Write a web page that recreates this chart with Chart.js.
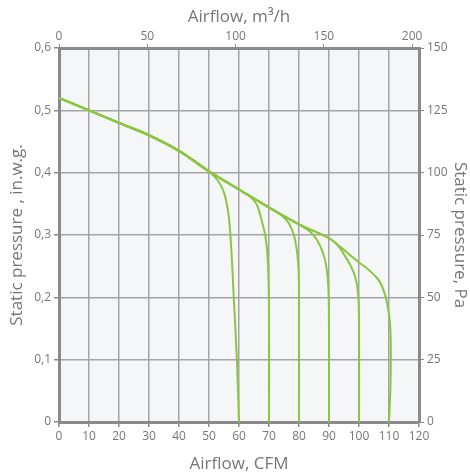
<!DOCTYPE html>
<html>
<head>
<meta charset="utf-8">
<script src="https://cdn.jsdelivr.net/npm/chart.js@4/dist/chart.umd.min.js"></script>
<style>
  body { margin: 0; background: #fff; }
  #wrap { width: 470px; height: 474px; }
</style>
</head>
<body>
<div id="wrap"><canvas id="fanChart" width="470" height="474"></canvas></div>
<script>
// axis ticks
var cfmTicks = [0, 10, 20, 30, 40, 50, 60, 70, 80, 90, 100, 110, 120];
var m3hTicks = [0, 50, 100, 150, 200];
var inwgTicks = [0, 0.1, 0.2, 0.3, 0.4, 0.5, 0.6];
var paTicks = [0, 25, 50, 75, 100, 125, 150];

// common upper curve (CFM / in.w.g.)
var mainCfm = [0, 10, 20, 30, 40, 50, 60, 70, 80, 90];
var mainPress = [0.52, 0.50, 0.48, 0.46, 0.435, 0.402, 0.373, 0.344, 0.317, 0.295];

// branches, each one leaves the upper curve and drops to zero
var cfm60 = [53, 55, 56.5, 57.4, 58.3, 59.3, 60];
var press60 = [0.387, 0.368, 0.333, 0.28, 0.195, 0.1, 0];
var cfm70 = [64, 66, 67.3, 68.8, 69.6, 70, 70];
var press70 = [0.36, 0.348, 0.328, 0.298, 0.26, 0.18, 0];
var cfm80 = [73, 75, 76.7, 78.3, 79.3, 79.9, 80, 80];
var press80 = [0.336, 0.328, 0.318, 0.3, 0.275, 0.24, 0.15, 0];
var cfm90 = [82, 84, 86, 87.8, 89.1, 89.8, 90, 90];
var press90 = [0.311, 0.304, 0.292, 0.274, 0.25, 0.215, 0.15, 0];
var cfm100 = [93, 95.5, 97.5, 99, 99.8, 100, 100];
var press100 = [0.283, 0.265, 0.248, 0.228, 0.2, 0.15, 0];
var cfm110 = [93, 96, 100, 103, 105, 106.8, 108.3, 109.4, 110.3, 110.6, 110.5, 110];
var press110 = [0.284, 0.272, 0.256, 0.245, 0.236, 0.226, 0.21, 0.19, 0.16, 0.12, 0.06, 0];

var lineColor = '#8cc63f';
var gridColor = '#a4a4a4';
var axisColor = '#8a8a8a';
var textColor = '#767676';
var fontName = "'Open Sans', sans-serif";

// build one curve: upper curve up to a CFM, then the branch
function makeCurve(upTo, bx, by) {
    var pts = [];
    for (var i = 0; i < mainCfm.length; i++) {
        if (mainCfm[i] <= upTo) {
            pts.push({ x: mainCfm[i], y: mainPress[i] });
        }
    }
    for (var j = 0; j < bx.length; j++) {
        pts.push({ x: bx[j], y: by[j] });
    }
    return {
        data: pts,
        borderColor: lineColor,
        borderWidth: 2,
        pointRadius: 0,
        tension: 0.35,
        fill: false
    };
}

var datasets = [
    makeCurve(50, cfm60, press60),
    makeCurve(60, cfm70, press70),
    makeCurve(70, cfm80, press80),
    makeCurve(80, cfm90, press90),
    makeCurve(90, cfm100, press100),
    makeCurve(90, cfm110, press110)
];

function setTicks(list) {
    return function(scale) {
        scale.ticks = list.map(function(v) { return { value: v }; });
    };
}

// plot background
var plotBg = {
    id: 'plotBg',
    beforeDraw: function(chart) {
        var a = chart.chartArea;
        var ctx = chart.ctx;
        ctx.save();
        ctx.fillStyle = '#f4f6f8';
        ctx.fillRect(a.left, a.top, a.right - a.left, a.bottom - a.top);
        ctx.restore();
    }
};

var tickFont = { family: fontName, size: 12 };
var titleFont = { family: fontName, size: 17 };

var ctx = document.getElementById('fanChart').getContext('2d');
var chart = new Chart(ctx, {
    type: 'line',
    data: { datasets: datasets },
    plugins: [plotBg],
    options: {
        responsive: false,
        animation: false,
        layout: { padding: 0 },
        plugins: {
            legend: { display: false },
            tooltip: { enabled: false }
        },
        scales: {
            x: {
                type: 'linear', position: 'bottom', min: 0, max: 120,
                afterBuildTicks: setTicks(cfmTicks),
                afterFit: function(s) { s.height = 52; },
                grid: { color: gridColor, lineWidth: 1.5, tickLength: 5, tickColor: axisColor },
                border: { color: axisColor, width: 3 },
                ticks: { color: textColor, font: tickFont, padding: 2, maxRotation: 0, autoSkip: false },
                title: { display: true, text: 'Airflow, CFM', color: textColor, font: titleFont, padding: { top: 3, bottom: 0 } }
            },
            x2: {
                type: 'linear', position: 'top', min: 0, max: 120 * 1.699,
                afterBuildTicks: setTicks(m3hTicks),
                afterFit: function(s) { s.height = 48; },
                grid: { drawOnChartArea: false, tickLength: 4, tickColor: axisColor },
                border: { color: axisColor, width: 3 },
                ticks: { color: textColor, font: tickFont, padding: 0, maxRotation: 0, autoSkip: false },
                title: { display: true, text: 'Airflow, m³/h', color: textColor, font: titleFont, padding: { top: 7, bottom: 0 } }
            },
            y: {
                type: 'linear', position: 'left', min: 0, max: 0.6,
                afterBuildTicks: setTicks(inwgTicks),
                afterFit: function(s) { s.width = 59; },
                grid: { color: gridColor, lineWidth: 1.5, tickLength: 5, tickColor: axisColor },
                border: { color: axisColor, width: 3 },
                ticks: {
                    color: textColor, font: tickFont, padding: 3, autoSkip: false,
                    callback: function(v) { return String(v).replace('.', ','); }
                },
                title: { display: true, text: 'Static pressure , in.w.g.', color: textColor, font: titleFont, padding: { top: 7, bottom: 0 } }
            },
            y2: {
                type: 'linear', position: 'right', min: 0, max: 150,
                afterBuildTicks: setTicks(paTicks),
                afterFit: function(s) { s.width = 51; },
                grid: { drawOnChartArea: false, tickLength: 5, tickColor: axisColor },
                border: { color: axisColor, width: 3 },
                ticks: { color: textColor, font: tickFont, padding: 3, autoSkip: false },
                title: { display: true, text: 'Static pressure, Pa', color: textColor, font: titleFont, padding: 0 }
            }
        }
    }
});
</script>
</body>
</html>
